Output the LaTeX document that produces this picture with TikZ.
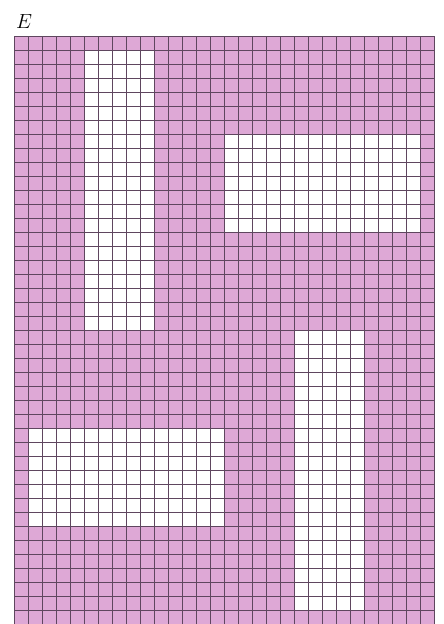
\documentclass[tikz,border=0pt]{standalone}
\usepackage[dvipsnames,svgnames,table]{xcolor}
\usepackage{tikz}
\usetikzlibrary{positioning}

\definecolor{mauve}{RGB}{222,168,214}
\definecolor{gridline}{RGB}{95,70,95}

\begin{document}
\begin{tikzpicture}[x=0.5cm, y=0.5cm]
  \useasboundingbox (-1.04,0) rectangle (30.61,44.57);

  % Background
  \fill[mauve] (0,0) rectangle (30,42);

  % White blocks
  \foreach \xa/\ya/\xb/\yb in {5/21/10/41, 15/28/29/35, 1/7/15/14, 20/1/25/21} {
    \fill[white] (\xa,\ya) rectangle (\xb,\yb);
  }

  % Grid
  \draw[gridline, line width=0.45pt, step=0.5cm] (0,0) grid (30,42);
  \draw[gridline, line width=0.8pt] (0,0) rectangle (30,42);

  % Label
  \node[anchor=base west, inner sep=0pt, font=\fontsize{22}{22}\selectfont] (lab) at (0.1,42.55) {$E$};

\end{tikzpicture}
\end{document}
